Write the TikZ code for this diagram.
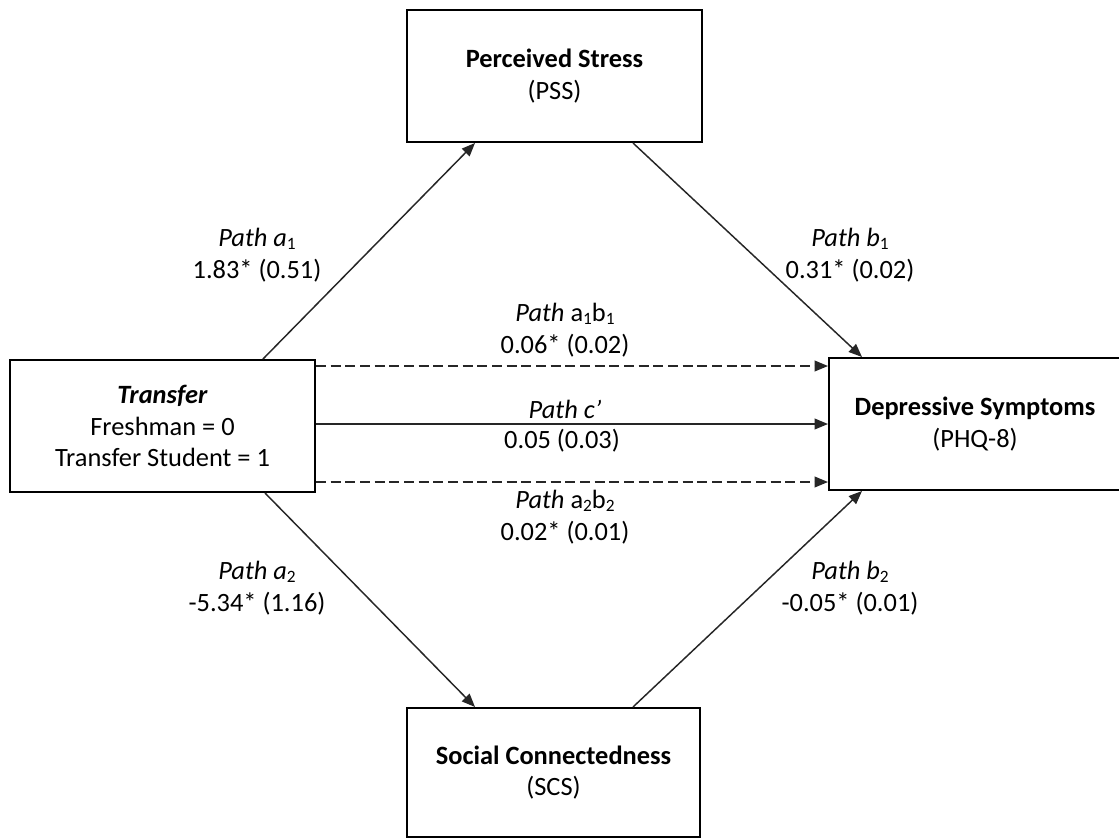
\documentclass[tikz,border=0pt]{standalone}
\usepackage{fontspec}
\setmainfont{Carlito}
\usetikzlibrary{arrows.meta,calc}

% small lowered index, as in a_1
\newcommand{\idx}[1]{\raisebox{-2.2pt}{\fontsize{13}{13}\selectfont #1}}

\begin{document}
\begin{tikzpicture}[x=0.75pt,y=-0.75pt,
  font=\fontsize{19.8}{23.5}\selectfont,
  box/.style={draw=black, line width=1.5pt, fill=white, align=center, inner sep=0pt},
  link/.style={line width=1.1pt, draw=black!85, -{Triangle[length=10pt,width=8pt]}},
  dlink/.style={link, dash pattern=on 7.5pt off 3.5pt},
  lbl/.style={align=center, inner sep=0pt}]
\fill[white] (0,0) rectangle (1119,838);
\useasboundingbox (0,0) rectangle (1119,838);

% variables
\node[box, minimum width=221.25pt, minimum height=99pt] (P) at (554.5,76)
  {\textbf{Perceived Stress}\\(PSS)};
\node[box, minimum width=228.75pt, minimum height=99pt] (T) at (162.5,426)
  {\textbf{\textit{Transfer}}\\Freshman = 0\\Transfer Student = 1};
\node[box, minimum width=219pt, minimum height=99pt] (D) at (975,424)
  {\textbf{Depressive Symptoms}\\(PHQ-8)};
\node[box, minimum width=219.75pt, minimum height=96.75pt] (S) at (553.5,772.5)
  {\textbf{Social Connectedness}\\(SCS)};

% paths
\draw[link] ($(T.north)+(100.5,0)$) -- ($(P.south)+(-79.5,0)$);
\draw[link] ($(P.south)+(78.5,0)$) -- ($(D.north)+(-113,0)$);
\draw[link] ($(T.south)+(102.5,0)$) -- ($(S.north)+(-78.5,0)$);
\draw[link] ($(S.north)+(79.5,0)$) -- ($(D.south)+(-113,0)$);
\draw[dlink] ($(T.east)+(0,-60)$) -- ($(D.west)+(0,-58)$);
\draw[link] ($(T.east)+(0,-2)$) -- (D.west);
\draw[dlink] ($(T.east)+(0,56)$) -- ($(D.west)+(0,58)$);

% coefficients
\node[lbl] (la1) at (257,255) {\textit{Path a}\idx{1}\\1.83* (0.51)};
\node[lbl] (lb1) at (850,255) {\textit{Path b}\idx{1}\\0.31* (0.02)};
\node[lbl] (lab1) at (565,330) {\textit{Path} a\idx{1}b\idx{1}\\0.06* (0.02)};
\node[lbl] (lc) at (565,409) {\textit{Path c’}};
\node[lbl] (lcv) at (562,441) {0.05 (0.03)};
\node[lbl] (lab2) at (565,517) {\textit{Path} a\idx{2}b\idx{2}\\0.02* (0.01)};
\node[lbl] (la2) at (257,588) {\textit{Path a}\idx{2}\\-5.34* (1.16)};
\node[lbl] (lb2) at (850,588) {\textit{Path b}\idx{2}\\-0.05* (0.01)};
\end{tikzpicture}
\end{document}
